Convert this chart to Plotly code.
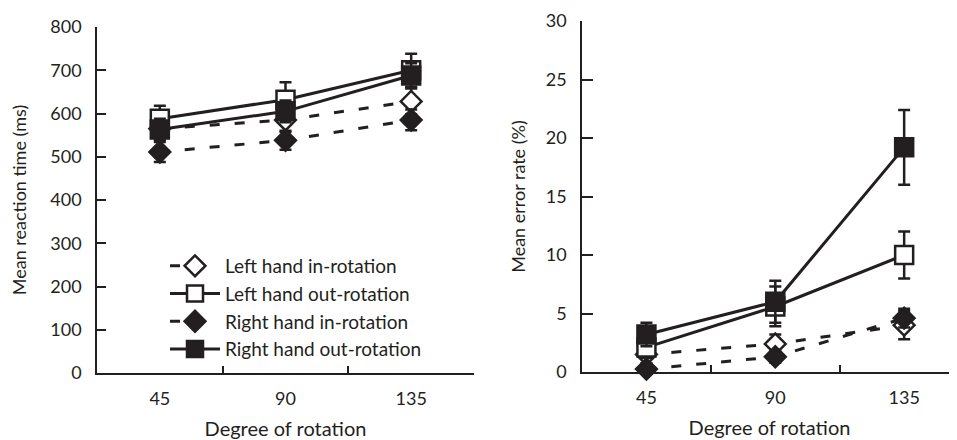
import plotly.graph_objects as go

categories = ["45", "90", "135"]
series_names = ["Left hand in-rotation", "Left hand out-rotation",
                "Right hand in-rotation", "Right hand out-rotation"]

# Reaction time (ms)
rt_lh_in = [565, 585, 628]
rt_lh_out = [588, 632, 700]
rt_rh_in = [511, 538, 585]
rt_rh_out = [563, 605, 688]
rt_err_lh_in = [25, 28, 30]
rt_err_lh_out = [30, 40, 38]
rt_err_rh_in = [23, 22, 24]
rt_err_rh_out = [25, 25, 28]

# Error rate (%)
er_lh_in = [1.5, 2.4, 4.0]
er_lh_out = [2.1, 5.6, 10.0]
er_rh_in = [0.25, 1.3, 4.6]
er_rh_out = [3.2, 6.0, 19.2]
er_err_lh_in = [0.8, 0.8, 1.2]
er_err_lh_out = [0.9, 1.7, 2.0]
er_err_rh_in = [0.5, 0.5, 0.8]
er_err_rh_out = [1.0, 1.8, 3.2]

rt_ticks = [0, 100, 200, 300, 400, 500, 600, 700, 800]
er_ticks = [0, 5, 10, 15, 20, 25, 30]

INK = "#231f20"
FONT = "Lato"
DASH = "10px,15px"

# page has an 8px body margin; build the figure to fit the remaining window
OFF = 8
W, H = 957 - OFF, 440 - OFF


def fx(p):
    return (p - OFF) / W


def fy(p):
    return 1 - (p - OFF) / H


styles = [
    dict(dash=DASH, symbol="diamond", fill="white", size=16),
    dict(dash="solid", symbol="square", fill="white", size=18),
    dict(dash=DASH, symbol="diamond", fill=INK, size=16),
    dict(dash="solid", symbol="square", fill=INK, size=18),
]

fig = go.Figure()

rt_vals = [rt_lh_in, rt_lh_out, rt_rh_in, rt_rh_out]
rt_errs = [rt_err_lh_in, rt_err_lh_out, rt_err_rh_in, rt_err_rh_out]
er_vals = [er_lh_in, er_lh_out, er_rh_in, er_rh_out]
er_errs = [er_err_lh_in, er_err_lh_out, er_err_rh_in, er_err_rh_out]

order = [0, 2, 1, 3]
for panel, (vals, errs, xa, ya) in enumerate([(rt_vals, rt_errs, "x", "y"),
                                              (er_vals, er_errs, "x2", "y2")]):
    for i in order:
        st = styles[i]
        fig.add_trace(go.Scatter(
            x=categories, y=vals[i], name=series_names[i],
            mode="lines+markers", xaxis=xa, yaxis=ya,
            showlegend=(panel == 0), legendrank=i + 1,
            line=dict(color=INK, width=3, dash=st["dash"]),
            marker=dict(symbol=st["symbol"], size=st["size"], color=st["fill"],
                        line=dict(color=INK, width=2.5)),
            error_y=dict(type="data", array=errs[i], color=INK,
                         thickness=2.5, width=6),
            cliponaxis=False,
        ))

axis_common = dict(
    showline=True, linecolor=INK, linewidth=1.5, showgrid=False, zeroline=False,
    ticks="inside", tickcolor=INK, tickwidth=1.5,
    tickfont=dict(family=FONT, size=18, color=INK),
    automargin=False,
)
xtitle_font = dict(family=FONT, size=20, color=INK)
ytitle_font = dict(family=FONT, size=18, color=INK)

fig.update_layout(
    width=W, height=H,
    margin=dict(l=0, r=0, t=0, b=0),
    paper_bgcolor="white", plot_bgcolor="white",
    font=dict(family=FONT, size=18, color=INK),
    xaxis=dict(domain=[fx(97), fx(474)], type="category",
               categoryorder="array", categoryarray=categories,
               range=[-0.5, 2.5], tickson="boundaries", ticklen=7,
               ticklabelstandoff=9, anchor="y",
               title=dict(text="Degree of rotation", standoff=14, font=xtitle_font),
               **axis_common),
    yaxis=dict(domain=[fy(373), fy(27)], range=[0, 800],
               tickvals=rt_ticks, ticklen=9, ticklabelstandoff=10, anchor="x",
               title=dict(text="Mean reaction time (ms)", standoff=24, font=ytitle_font),
               **axis_common),
    xaxis2=dict(domain=[fx(582), 1.0], type="category",
                categoryorder="array", categoryarray=categories,
                range=[-0.5, 2.41], tickson="boundaries", ticklen=7,
                ticklabelstandoff=9, anchor="y2",
                title=dict(text="Degree of rotation", standoff=14, font=xtitle_font),
                **axis_common),
    yaxis2=dict(domain=[fy(372), fy(21)], range=[0, 30],
                tickvals=er_ticks, ticklen=11, ticklabelstandoff=10, anchor="x2",
                title=dict(text="Mean error rate (%)", standoff=15, font=ytitle_font),
                **axis_common),
    legend=dict(x=fx(165), y=fy(247), xanchor="left", yanchor="top",
                bgcolor="rgba(0,0,0,0)", font=dict(family=FONT, size=19, color=INK),
                tracegroupgap=0, itemwidth=50, traceorder="normal"),
    showlegend=True,
)

fig.write_html("out.html")
